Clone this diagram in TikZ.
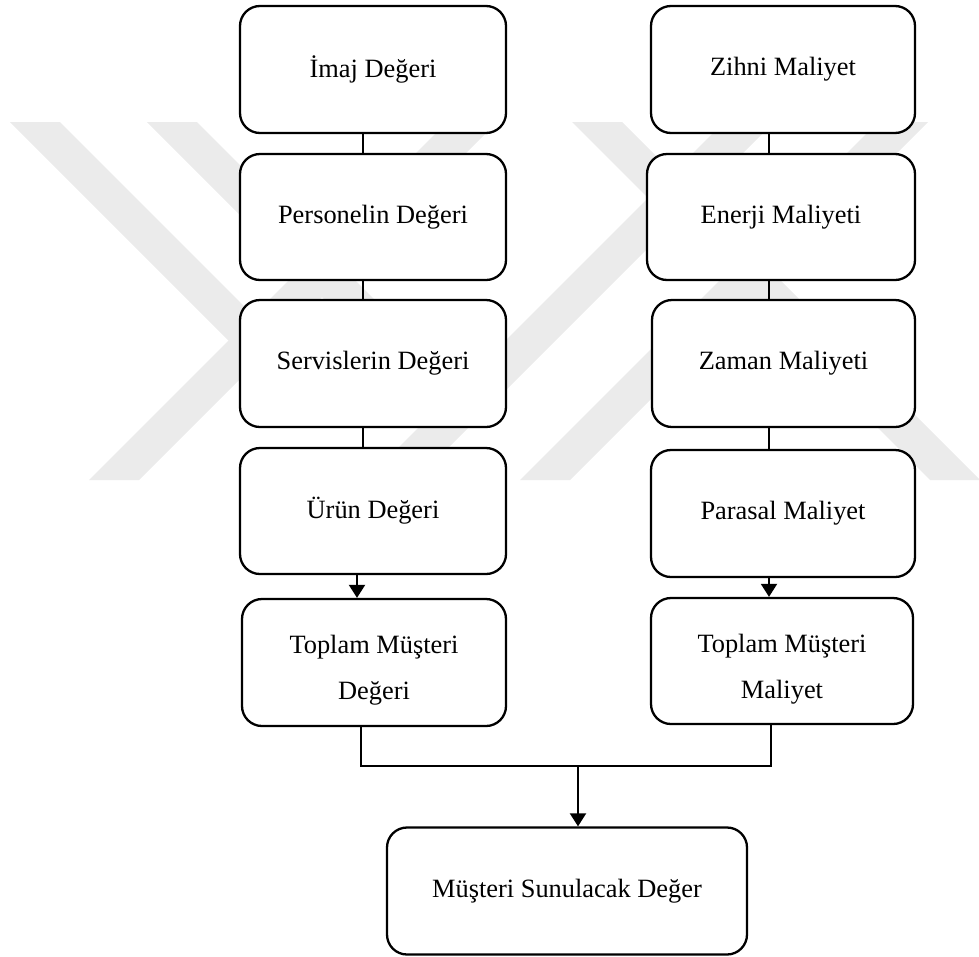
\documentclass[tikz,border=0pt]{standalone}
\usepackage{fontspec}
\setmainfont{Liberation Serif}
\usetikzlibrary{arrows.meta}

\begin{document}
\begin{tikzpicture}[x=1pt,y=-1pt,
  box/.style={draw, line width=2.3pt, rounded corners=20pt, fill=white,
    minimum width=266pt, minimum height=127pt, inner sep=0pt,
    font=\fontsize{26.4}{32}\selectfont, align=center},
  twoline/.style={font=\fontsize{26.4}{46}\selectfont, align=center, inner sep=0pt},
  link/.style={line width=2pt},
  arr/.style={line width=2pt, -{Triangle[length=13pt,width=16pt]}},
  wm/.style={fill=black!8, draw=none}]

\useasboundingbox (0,0) rectangle (979,956);

% faint background emblem: diagonal bands
% short bands falling to the right, ending where they meet a rising band
\fill[wm] (10,122) -- ++(50,0) -- ++(223,223) -- ++(-50,0) -- cycle;
\fill[wm] (147,122) -- ++(50,0) -- ++(288,288) -- ++(-50,0) -- cycle;
% full band falling to the right
\fill[wm] (572,122) -- ++(50,0) -- ++(358,358) -- ++(-50,0) -- cycle;
% rising bands
\foreach \x in {89,366,520}
  \fill[wm] (\x,480) -- ++(50,0) -- ++(358,-358) -- ++(-50,0) -- cycle;

% value column
\node[box] (l1) at (373,69.5) {\raisebox{3pt}{İmaj Değeri}};
\node[box, minimum height=126pt] (l2) at (373,217) {\raisebox{2pt}{Personelin Değeri}};
\node[box] (l3) at (373,363.5) {\raisebox{2pt}{Servislerin Değeri}};
\node[box, minimum height=126pt] (l4) at (373,511) {\raisebox{3pt}{Ürün Değeri}};
\node[box, minimum width=264pt] (l5) at (374,662.5) {};
\node[twoline] at ([yshift=-8pt]l5.center) {Toplam Müşteri\\Değeri};

% cost column
\node[box, minimum width=264pt] (r1) at (783,69.5) {\raisebox{2pt}{Zihni Maliyet}};
\node[box, minimum width=268pt, minimum height=126pt] (r2) at (781,217) {\raisebox{2pt}{Enerji Maliyeti}};
\node[box, minimum width=263pt] (r3) at (783.5,363.5) {\raisebox{2pt}{Zaman Maliyeti}};
\node[box, minimum width=264pt] (r4) at (783,513.5) {\raisebox{1pt}{Parasal Maliyet}};
\node[box, minimum width=262pt, minimum height=126pt] (r5) at (782,661) {};
\node[twoline] at ([yshift=-8pt]r5.center) {Toplam Müşteri\\Maliyet};

% result
\node[box, minimum width=360pt] (res) at (567,891) {\raisebox{1pt}{Müşteri Sunulacak Değer}};

% links in the value column
\draw[link] ([xshift=-10pt]l1.south) -- ([xshift=-10pt]l2.north);
\draw[link] ([xshift=-10pt]l2.south) -- ([xshift=-10pt]l3.north);
\draw[link] ([xshift=-10pt]l3.south) -- ([xshift=-10pt]l4.north);
\draw[arr] ([xshift=-16pt]l4.south) -- ([xshift=-16pt]l4.south |- l5.north);

% links in the cost column
\draw[link] ([xshift=-14pt]r1.south) -- ([xshift=-14pt]r1.south |- r2.north);
\draw[link] ([xshift=-14pt]r1.south |- r2.south) -- ([xshift=-14pt]r1.south |- r3.north);
\draw[link] ([xshift=-14pt]r1.south |- r3.south) -- ([xshift=-14pt]r1.south |- r4.north);
\draw[arr] ([xshift=-14pt]r4.south) -- ([xshift=-14pt]r4.south |- r5.north);

% joining both totals into the result
\coordinate (join) at (578,766);
\draw[link] ([xshift=-13pt]l5.south) |- (join) -| ([xshift=-11pt]r5.south);
\draw[arr] (join) -- (join |- res.north);

\end{tikzpicture}
\end{document}
